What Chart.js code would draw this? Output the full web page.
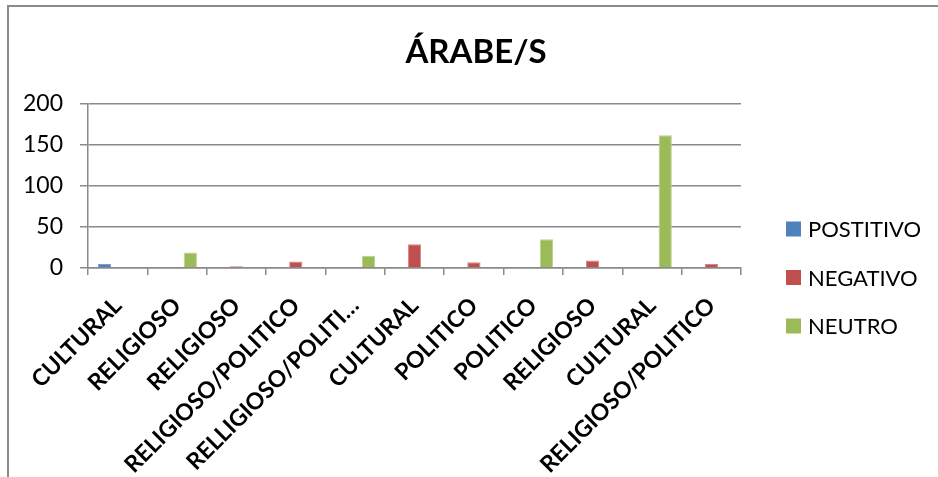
<!DOCTYPE html>
<html>
<head>
<meta charset="utf-8">
<script src="https://cdn.jsdelivr.net/npm/chart.js@4"></script>
<style>
  html, body { margin: 0; padding: 0; background: #fff; }
  #wrap { position: relative; width: 938px; height: 477px; }
  #frame { position: absolute; left: 7px; top: 5px; right: 0; bottom: 0;
           border-left: 2px solid #8a8a8a; border-top: 2px solid #8a8a8a; pointer-events: none; }
</style>
</head>
<body>
<div id="wrap">
  <canvas id="chart" width="938" height="477"></canvas>
  <div id="frame"></div>
</div>
<script>
const chartTitle = 'ÁRABE/S';
const categories = ['CULTURAL', 'RELIGIOSO', 'RELIGIOSO', 'RELIGIOSO/POLITICO', 'RELLIGIOSO/POLITI…',
    'CULTURAL', 'POLITICO', 'POLITICO', 'RELIGIOSO', 'CULTURAL', 'RELIGIOSO/POLITICO'];
const seriesNames = ['POSTITIVO', 'NEGATIVO', 'NEUTRO'];
const positivo = [5, null, null, null, null, null, null, null, null, null, null];
const negativo = [null, null, 2, 8, null, 29, 7, null, 9, null, 5];
const neutro = [null, 19, null, null, 15, null, null, 35, null, 162, null];
const yTicks = [0, 50, 100, 150, 200];

const colors = ['#4F81BD', '#C0504D', '#9BBB59'];
const edges = ['#7A9FD0', '#D58683', '#BCD28C'];

// title + legend drawn at the spots the original uses
const textPlugin = {
    id: 'textPlugin',
    afterDraw(chart) {
        const ctx = chart.ctx;
        ctx.save();
        ctx.fillStyle = '#000';
        ctx.font = 'bold 33px Lato';
        ctx.textAlign = 'center';
        ctx.textBaseline = 'middle';
        ctx.fillText(chartTitle, 476, 52);

        ctx.font = '22px Lato';
        ctx.textAlign = 'left';
        chart.data.datasets.forEach((ds, i) => {
            const yc = 229 + i * 48.5;
            ctx.fillStyle = ds.backgroundColor;
            ctx.fillRect(786, yc - 7.5, 15, 15);
            ctx.fillStyle = '#000';
            ctx.fillText(ds.label, 808, yc + 1);
        });
        ctx.restore();
    }
};

const ctx = document.getElementById('chart').getContext('2d');
new Chart(ctx, {
    type: 'bar',
    data: {
        labels: categories,
        datasets: [positivo, negativo, neutro].map((d, i) => ({
            label: seriesNames[i],
            data: d,
            backgroundColor: colors[i],
            borderColor: edges[i],
            borderWidth: 1,
            categoryPercentage: 0.67,
            barPercentage: 1
        }))
    },
    options: {
        responsive: false,
        animation: false,
        events: [],
        layout: { padding: { left: 8, right: 197, top: 104, bottom: 0 } },
        plugins: {
            legend: { display: false },
            title: { display: false },
            tooltip: { enabled: false }
        },
        scales: {
            y: {
                min: 0,
                max: 200,
                afterBuildTicks: s => { s.ticks = yTicks.map(v => ({ value: v })); },
                afterFit: s => { s.width = 80; },
                grid: { color: '#8a8a8a', lineWidth: 1.5, tickLength: 8 },
                border: { color: '#8a8a8a', width: 1.5 },
                ticks: { color: '#000', padding: 17, font: { family: 'Lato', size: 23 } }
            },
            x: {
                afterFit: s => { s.height = 209; },
                grid: { drawOnChartArea: false, color: '#8a8a8a', lineWidth: 1.5, tickLength: 7 },
                border: { color: '#8a8a8a', width: 1.5 },
                ticks: {
                    color: '#000',
                    autoSkip: false,
                    minRotation: 45,
                    maxRotation: 45,
                    padding: 17,
                    font: { family: 'Lato', size: 23, weight: 'bold' }
                }
            }
        }
    },
    plugins: [textPlugin]
});
</script>
</body>
</html>
